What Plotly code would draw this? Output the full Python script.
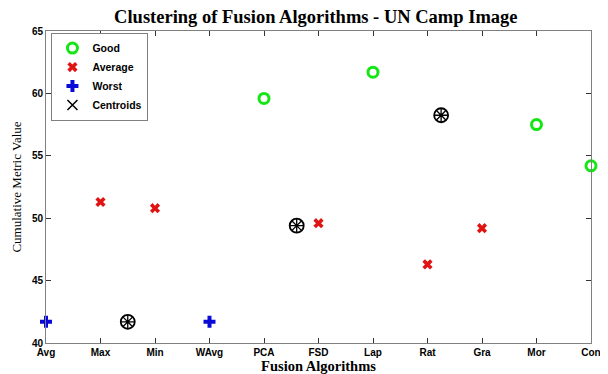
import plotly.graph_objects as go

categories = ["Avg", "Max", "Min", "WAvg", "PCA", "FSD", "Lap", "Rat", "Gra", "Mor", "Con"]
y_ticks = [40, 45, 50, 55, 60, 65]

good_names = ["PCA", "Lap", "Mor", "Con"]
good_values = [59.6, 61.7, 57.5, 54.2]

avg_names = ["Max", "Min", "FSD", "Rat", "Gra"]
avg_values = [51.3, 50.8, 49.6, 46.3, 49.2]

worst_names = ["Avg", "WAvg"]
worst_values = [41.7, 41.7]

# centroid positions (x in category-index units, 0-based)
centroid_x = [1.5, 4.6, 7.25]
centroid_y = [41.7, 49.4, 58.25]

idx = {c: i for i, c in enumerate(categories)}

fig = go.Figure()
fig.add_trace(go.Scatter(
    x=[idx[n] for n in good_names], y=good_values, mode="markers", name="Good",
    marker=dict(symbol="circle-open", size=10, color="rgb(20,230,20)", line=dict(width=3)),
    cliponaxis=False))
fig.add_trace(go.Scatter(
    x=[idx[n] for n in avg_names], y=avg_values, mode="markers", name="Average",
    marker=dict(symbol="x", size=9, color="rgb(225,20,20)", line=dict(width=0)),
    cliponaxis=False))
fig.add_trace(go.Scatter(
    x=[idx[n] for n in worst_names], y=worst_values, mode="markers", name="Worst",
    marker=dict(symbol="cross", size=10, color="rgb(10,10,215)", line=dict(width=0)),
    cliponaxis=False))
fig.add_trace(go.Scatter(
    x=[None], y=[None], mode="markers", name="Centroids",
    marker=dict(symbol="x-thin-open", size=10, color="black", line=dict(width=1.5, color="black"))))
fig.add_trace(go.Scatter(
    x=centroid_x, y=centroid_y, mode="markers", showlegend=False,
    marker=dict(symbol="circle-open", size=14, color="black", line=dict(width=1.8, color="black")),
    cliponaxis=False))
fig.add_trace(go.Scatter(
    x=centroid_x, y=centroid_y, mode="markers", showlegend=False,
    marker=dict(symbol="asterisk-open", size=11, color="black", line=dict(width=1.3, color="black")),
    cliponaxis=False))

tickfont = dict(family="Liberation Sans", size=10, color="black", weight="bold")

# page body has an 8px default margin, so the figure is sized to fit the 608x374 window
fig.update_layout(
    width=600, height=366,
    margin=dict(l=38, r=17, t=23, b=30.5),
    paper_bgcolor="white", plot_bgcolor="white",
    title=dict(text="Clustering of Fusion Algorithms - UN Camp Image",
               font=dict(family="Liberation Serif", size=18.5, color="black", weight="bold"),
               x=0.513, xanchor="center", y=0.976, yanchor="middle"),
    showlegend=True,
    legend=dict(x=0.01, y=0.995, xanchor="left", yanchor="top",
                bgcolor="white", bordercolor="#808080", borderwidth=1,
                font=dict(family="Liberation Sans", size=10.5, color="black", weight="bold"),
                itemwidth=30, tracegroupgap=0),
    xaxis=dict(range=[0, 10], tickmode="array", tickvals=list(range(len(categories))),
               ticktext=categories, ticks="inside", ticklen=5, tickcolor="#333",
               showline=True, linecolor="#808080", linewidth=1, mirror="ticks",
               showgrid=False, zeroline=False, tickfont=tickfont, automargin=False,
               title=dict(text="Fusion Algorithms", standoff=5,
                          font=dict(family="Liberation Serif", size=14.5, color="black", weight="bold"))),
    yaxis=dict(range=[40, 65], tickmode="array", tickvals=y_ticks,
               ticks="inside", ticklen=5, tickcolor="#333",
               showline=True, linecolor="#808080", linewidth=1, mirror="ticks",
               showgrid=False, zeroline=False, tickfont=tickfont, automargin=False,
               title=dict(text="Cumulative Metric Value", standoff=7,
                          font=dict(family="Liberation Serif", size=13, color="black"))),
)

fig.write_html("out.html")
